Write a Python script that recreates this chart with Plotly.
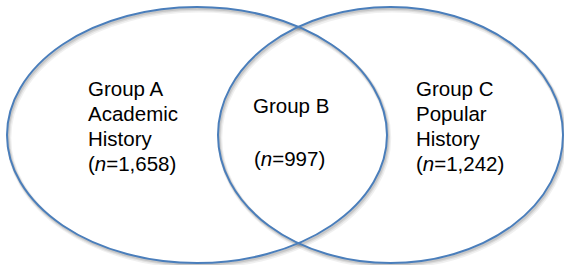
import plotly.graph_objects as go

# Data
group_names = ["Group A", "Group B", "Group C"]
group_subtitles = [["Academic", "History"], [], ["Popular", "History"]]
group_counts = [1658, 997, 1242]

W, H = 564, 265
# Ellipse geometry (layout, pixel space)
ellipses = [
    dict(x0=7, x1=387, y0=7, y1=263),    # Group A circle
    dict(x0=218, x1=563, y0=7, y1=263),  # Group C circle
]
line_color = "#4a7ebb"

fig = go.Figure()
fig.add_trace(go.Scatter(x=[0, W], y=[0, H], mode="markers",
                         marker=dict(opacity=0), hoverinfo="skip", showlegend=False))

shapes = []
# soft shadow
for off, alpha, w in [(3.0, 0.06, 5), (2.2, 0.08, 3.5), (1.5, 0.10, 2.5)]:
    for e in ellipses:
        shapes.append(dict(type="circle", xref="x", yref="y",
                           x0=e["x0"] + off * 0.6, x1=e["x1"] + off * 0.6,
                           y0=e["y0"] + off, y1=e["y1"] + off,
                           line=dict(color=f"rgba(0,0,0,{alpha})", width=w)))
for e in ellipses:
    shapes.append(dict(type="circle", xref="x", yref="y",
                       x0=e["x0"], x1=e["x1"], y0=e["y0"], y1=e["y1"],
                       line=dict(color=line_color, width=2)))

font = dict(family="Liberation Sans, Arial, Helvetica, sans-serif", size=20.5, color="black")

def count_label(n):
    return f"(<i>n</i>={n:,})"

annotations = []
line_gap = 25.3
blocks = [
    (86, 88, [group_names[0]] + group_subtitles[0] + [count_label(group_counts[0])]),
    (414, 88, [group_names[2]] + group_subtitles[2] + [count_label(group_counts[2])]),
]
for x, y, lines in blocks:
    for i, t in enumerate(lines):
        annotations.append(dict(x=x, y=y + i * line_gap, xref="x", yref="y", text=t,
                                showarrow=False, xanchor="left", yanchor="middle", font=font))
annotations.append(dict(x=251, y=105, xref="x", yref="y", text=group_names[1],
                        showarrow=False, xanchor="left", yanchor="middle", font=font))
annotations.append(dict(x=252, y=158, xref="x", yref="y", text=count_label(group_counts[1]),
                        showarrow=False, xanchor="left", yanchor="middle", font=font))

fig.update_layout(
    width=W, height=H,
    margin=dict(l=0, r=0, t=0, b=0),
    paper_bgcolor="white", plot_bgcolor="white",
    xaxis=dict(range=[0, W], visible=False, fixedrange=True),
    yaxis=dict(range=[H, 0], visible=False, fixedrange=True),
    shapes=shapes, annotations=annotations, showlegend=False,
)
fig.write_html("out.html", config={"displayModeBar": False},
               post_script="document.body.style.margin='0';document.body.style.padding='0';")
